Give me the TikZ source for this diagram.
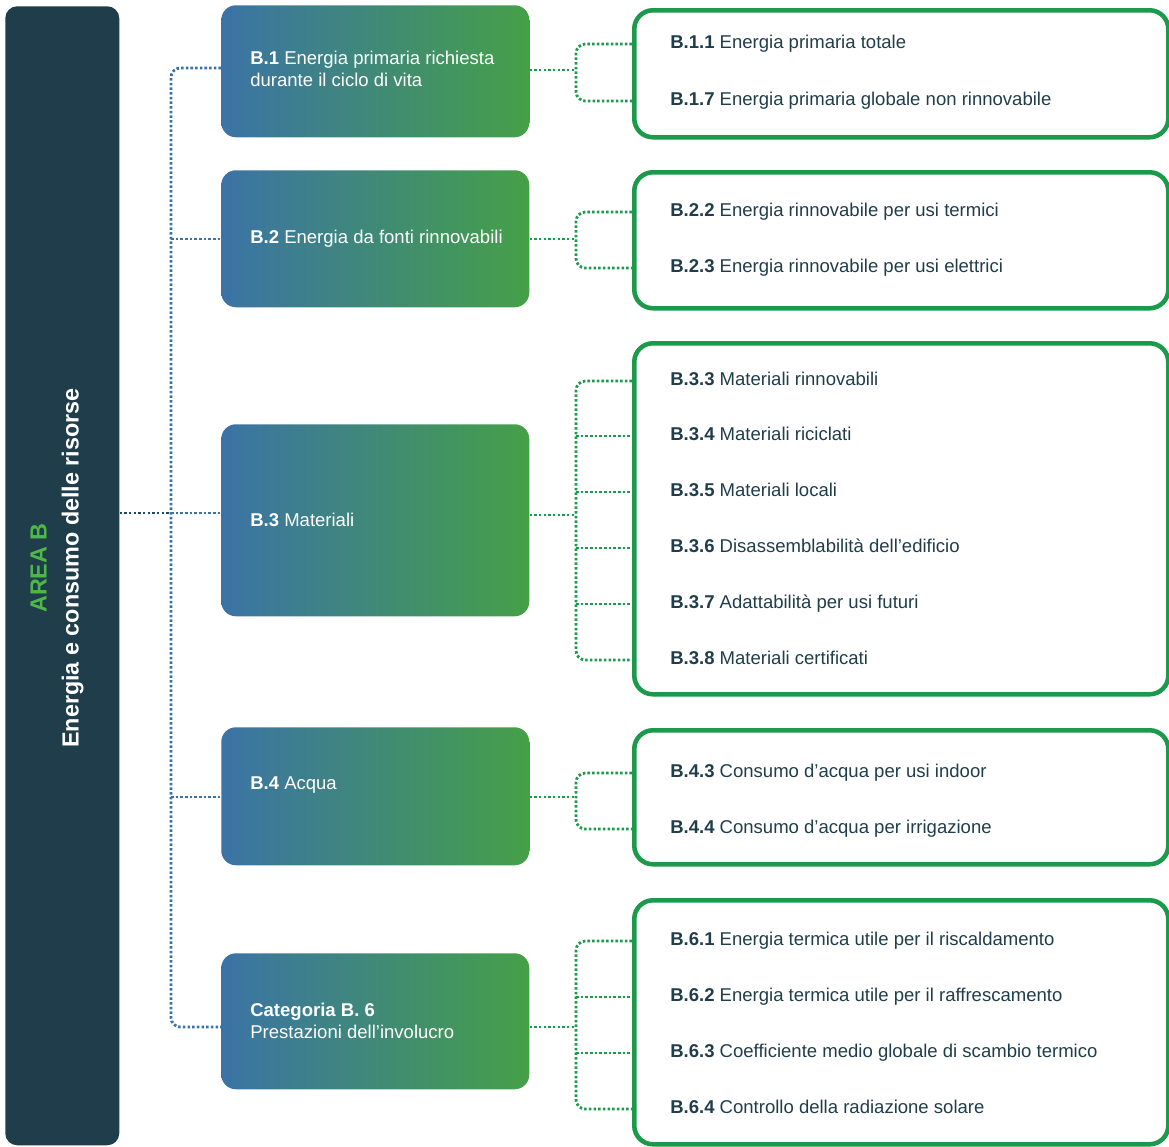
\documentclass[tikz,border=0pt]{standalone}
\usepackage{fontspec}
\setmainfont{Liberation Sans}
\usetikzlibrary{calc}
\definecolor{barcol}{HTML}{1F3D4A}
\definecolor{darktext}{HTML}{1F3D4A}
\definecolor{gradL}{HTML}{3B73A6}
\definecolor{gradR}{HTML}{45A047}
\definecolor{gborder}{HTML}{1A9A4A}
\definecolor{gdot}{HTML}{1A9A4A}
\definecolor{bdot}{HTML}{3A72A8}
\definecolor{areagreen}{HTML}{4DB848}
\begin{document}
\begin{tikzpicture}[x=0.75pt,y=-0.75pt,
  bar/.style={fill=barcol, draw=none, rounded corners=9pt, anchor=north west, inner sep=0pt, minimum width=85.5pt},
  bluebox/.style={draw=none, rounded corners=11pt, left color=gradL, right color=gradR, anchor=north west, inner sep=0pt, minimum width=231pt},
  greenbox/.style={draw=gborder, line width=3.4pt, rounded corners=14pt, anchor=north west, inner sep=0pt, minimum width=400.5pt},
  itemtext/.style={anchor=west, inner sep=0pt, text=darktext, font=\fontsize{13.9}{16}\selectfont, text height=0.72em, text depth=0pt},
  cattext/.style={anchor=west, inner sep=0pt, text=white, align=left, font=\fontsize{13.9}{16.5}\selectfont},
  dotline/.style={line width=2.1pt, dash pattern=on 1.9pt off 1.6pt},
  bluedot/.style={dotline, draw=bdot},
  greendot/.style={dotline, draw=gdot},
  darkdot/.style={dotline, draw=barcol!80!bdot}
]
\useasboundingbox (0,0) rectangle (1169,1146);

% left bar
\node[bar, minimum height=854.25pt] (bar) at (5,6) {};
\node[rotate=90, align=center, font=\fontsize{17.5}{24}\selectfont\bfseries, text=white] (bartitle) at (57,568)
  {\textcolor{areagreen}{AREA B}\\Energia e consumo delle risorse};

% category boxes
\node[bluebox, minimum height=99pt]    (b1) at (221,5)   {};
\node[bluebox, minimum height=102.75pt](b2) at (221,170) {};
\node[bluebox, minimum height=144pt]   (b3) at (221,424) {};
\node[bluebox, minimum height=103.5pt] (b4) at (221,727) {};
\node[bluebox, minimum height=102pt]   (b6) at (221,953) {};

\node[cattext] (b1t) at (250,69)   {\textbf{B.1} Energia primaria richiesta\\durante il ciclo di vita};
\node[cattext] (b2t) at (250,239)  {\textbf{B.2} Energia da fonti rinnovabili};
\node[cattext] (b3t) at (250,520)  {\textbf{B.3} Materiali};
\node[cattext] (b4t) at (250,785)  {\textbf{B.4} Acqua};
\node[cattext] (b6t) at (250,1021) {\textbf{Categoria B. 6}\\Prestazioni dell’involucro};

% left tree connectors
\coordinate (s1) at (171,68);
\coordinate (s2) at (171,239);
\coordinate (s3) at (171,513);
\coordinate (s4) at (171,797);
\coordinate (s6) at (171,1027);
\draw[darkdot] (bar.east |- s3) -- (s3);
\draw[bluedot, rounded corners=7pt] (b1.west |- s1) -- (s1) -- (s6) -- (b6.west |- s6);
\draw[bluedot] (s2) -- (b2.west |- s2);
\draw[bluedot] (s3) -- (b3.west |- s3);
\draw[bluedot] (s4) -- (b4.west |- s4);

% right tree coordinates
\coordinate (r1) at (576,70);
\coordinate (r2) at (576,239);
\coordinate (r3) at (576,515);
\coordinate (r4) at (576,797);
\coordinate (r6) at (576,1027);

% item texts
\node[itemtext] (i11) at (670,44)   {\textbf{B.1.1} Energia primaria totale};
\node[itemtext] (i17) at (670,101)  {\textbf{B.1.7} Energia primaria globale non rinnovabile};
\node[itemtext] (i22) at (670,212)  {\textbf{B.2.2} Energia rinnovabile per usi termici};
\node[itemtext] (i23) at (670,268)  {\textbf{B.2.3} Energia rinnovabile per usi elettrici};
\node[itemtext] (i33) at (670,381)  {\textbf{B.3.3} Materiali rinnovabili};
\node[itemtext] (i34) at (670,436)  {\textbf{B.3.4} Materiali riciclati};
\node[itemtext] (i35) at (670,492)  {\textbf{B.3.5} Materiali locali};
\node[itemtext] (i36) at (670,548)  {\textbf{B.3.6} Disassemblabilità dell’edificio};
\node[itemtext] (i37) at (670,604)  {\textbf{B.3.7} Adattabilità per usi futuri};
\node[itemtext] (i38) at (670,660)  {\textbf{B.3.8} Materiali certificati};
\node[itemtext] (i43) at (670,773)  {\textbf{B.4.3} Consumo d’acqua per usi indoor};
\node[itemtext] (i44) at (670,829)  {\textbf{B.4.4} Consumo d’acqua per irrigazione};
\node[itemtext] (i61) at (670,941)  {\textbf{B.6.1} Energia termica utile per il riscaldamento};
\node[itemtext] (i62) at (670,997)  {\textbf{B.6.2} Energia termica utile per il raffrescamento};
\node[itemtext] (i63) at (670,1053) {\textbf{B.6.3} Coefficiente medio globale di scambio termico};
\node[itemtext] (i64) at (670,1109) {\textbf{B.6.4} Controllo della radiazione solare};

% right tree connectors
\coordinate (gx) at (632,0);
\draw[greendot] (b1.east |- r1) -- (r1);
\draw[greendot, rounded corners=7pt] (gx |- i11) -| (r1) |- (gx |- i17);
\draw[greendot] (b2.east |- r2) -- (r2);
\draw[greendot, rounded corners=7pt] (gx |- i22) -| (r2) |- (gx |- i23);
\draw[greendot] (b3.east |- r3) -- (r3);
\draw[greendot, rounded corners=7pt] (gx |- i33) -| (r3) |- (gx |- i38);
\draw[greendot] (r3 |- i34) -- (gx |- i34);
\draw[greendot] (r3 |- i35) -- (gx |- i35);
\draw[greendot] (r3 |- i36) -- (gx |- i36);
\draw[greendot] (r3 |- i37) -- (gx |- i37);
\draw[greendot] (b4.east |- r4) -- (r4);
\draw[greendot, rounded corners=7pt] (gx |- i43) -| (r4) |- (gx |- i44);
\draw[greendot] (b6.east |- r6) -- (r6);
\draw[greendot, rounded corners=7pt] (gx |- i61) -| (r6) |- (gx |- i64);
\draw[greendot] (r6 |- i62) -- (gx |- i62);
\draw[greendot] (r6 |- i63) -- (gx |- i63);

% green boxes (outline drawn over connector ends)
\node[greenbox, minimum height=95.25pt]  (g1) at (632,8)   {};
\node[greenbox, minimum height=102pt]    (g2) at (632,170) {};
\node[greenbox, minimum height=263.25pt] (g3) at (632,341) {};
\node[greenbox, minimum height=100.5pt]  (g4) at (632,728) {};
\node[greenbox, minimum height=183pt]    (g6) at (632,898) {};
\end{tikzpicture}
\end{document}
